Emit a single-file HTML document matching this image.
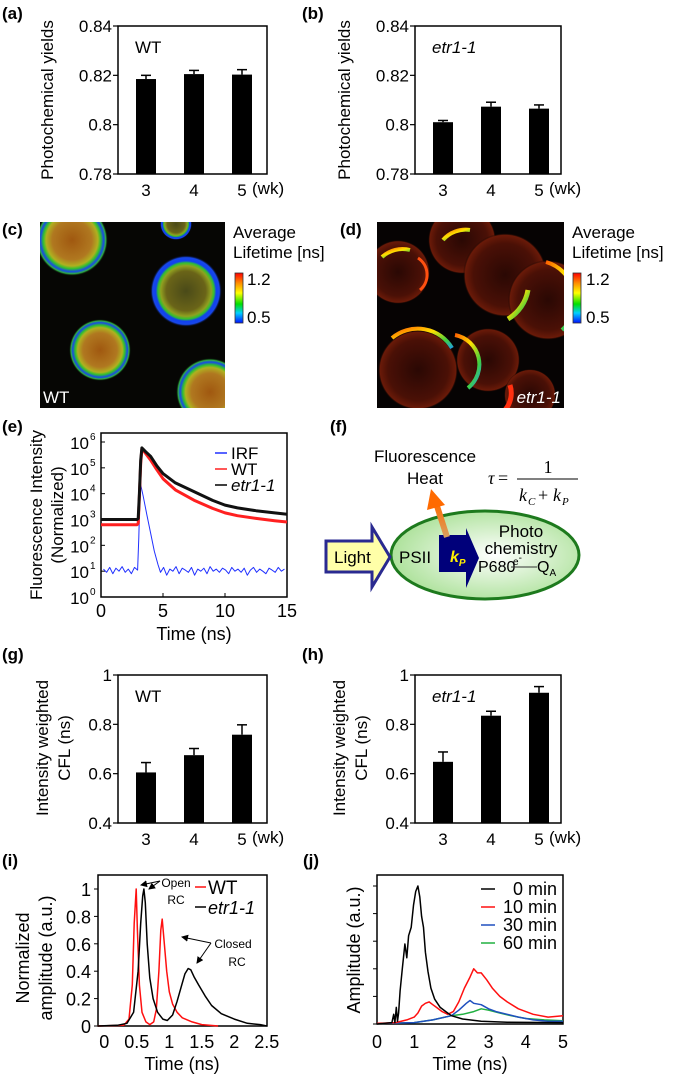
<!DOCTYPE html>
<html><head><meta charset="utf-8">
<style>
html,body{margin:0;padding:0;background:#fff;}
svg{display:block;font-family:"Liberation Sans",Arial,sans-serif;}
</style></head>
<body>
<svg id="fig" width="675" height="1078" viewBox="0 0 675 1078" xmlns="http://www.w3.org/2000/svg">
<defs>
  <linearGradient id="cbar" x1="0" y1="0" x2="0" y2="1">
    <stop offset="0" stop-color="#ff0000"/><stop offset="0.2" stop-color="#ff8c00"/>
    <stop offset="0.4" stop-color="#ffff00"/><stop offset="0.62" stop-color="#00e000"/>
    <stop offset="0.8" stop-color="#00d0ff"/><stop offset="1" stop-color="#0010ff"/>
  </linearGradient>
  <radialGradient id="cellA">
    <stop offset="0" stop-color="#4a4a18"/><stop offset="0.55" stop-color="#6a6418"/>
    <stop offset="0.7" stop-color="#90a020"/><stop offset="0.78" stop-color="#30c030"/>
    <stop offset="0.84" stop-color="#1040f0"/><stop offset="0.93" stop-color="#1848e8"/><stop offset="1" stop-color="#000" stop-opacity="0"/>
  </radialGradient>
  <radialGradient id="cellB">
    <stop offset="0" stop-color="#a05810"/><stop offset="0.55" stop-color="#b07820"/>
    <stop offset="0.72" stop-color="#b0b020"/><stop offset="0.8" stop-color="#30c030"/>
    <stop offset="0.88" stop-color="#1848e8"/><stop offset="0.94" stop-color="#30b040"/><stop offset="1" stop-color="#000" stop-opacity="0"/>
  </radialGradient>
  <radialGradient id="cellD">
    <stop offset="0" stop-color="#2a0804"/><stop offset="0.75" stop-color="#4a1006"/>
    <stop offset="0.95" stop-color="#6a1a08"/><stop offset="1" stop-color="#000" stop-opacity="0"/>
  </radialGradient>
  <linearGradient id="cres" x1="0" y1="0" x2="1" y2="1">
    <stop offset="0" stop-color="#ff6000"/><stop offset="0.4" stop-color="#ffe000"/>
    <stop offset="0.75" stop-color="#40d040"/><stop offset="1" stop-color="#20a0e0"/>
  </linearGradient>
  <radialGradient id="ell" cx="0.55" cy="0.5" r="0.6">
    <stop offset="0" stop-color="#ffffff"/><stop offset="1" stop-color="#a6df92"/>
  </radialGradient>
  <linearGradient id="orng" x1="0" y1="1" x2="0" y2="0">
    <stop offset="0" stop-color="#d8a060"/><stop offset="1" stop-color="#ff6a00"/>
  </linearGradient>
  <marker id="ah" markerWidth="7" markerHeight="7" refX="6" refY="3.5" orient="auto">
    <path d="M0,0 L7,3.5 L0,7 z" fill="#000"/>
  </marker>
</defs>

<g font-weight="bold" font-size="17">
  <text x="2" y="19">(a)</text>
  <text x="302" y="19">(b)</text>
  <text x="2" y="235">(c)</text>
  <text x="340" y="235">(d)</text>
  <text x="2" y="432">(e)</text>
  <text x="330" y="432">(f)</text>
  <text x="2" y="660">(g)</text>
  <text x="302" y="660">(h)</text>
  <text x="2" y="866">(i)</text>
  <text x="303" y="866">(j)</text>
</g>

<g>
  <svg x="40" y="222" width="185" height="186" viewBox="40 222 185 186">
    <rect x="40" y="222" width="185" height="186" fill="#060604"/>
    <circle cx="72" cy="240" r="36" fill="url(#cellB)"/>
    <circle cx="176" cy="224" r="16" fill="url(#cellA)"/>
    <circle cx="186" cy="291" r="36" fill="url(#cellA)"/>
    <circle cx="100" cy="350" r="31" fill="url(#cellB)"/>
    <circle cx="210" cy="392" r="34" fill="url(#cellB)"/>
  </svg>
  <text x="43" y="403" fill="#fff" font-size="17">WT</text>
</g>
<g font-size="17">
  <text x="233" y="238">Average</text>
  <text x="233" y="258">Lifetime [ns]</text>
  <rect x="235" y="273" width="8" height="50" fill="url(#cbar)" stroke="#333" stroke-width="0.8"/>
  <text x="247" y="285">1.2</text>
  <text x="247" y="323">0.5</text>
</g>

<g>
  <svg x="377" y="222" width="187" height="186" viewBox="377 222 187 186">
    <rect x="377" y="222" width="187" height="186" fill="#060303"/>
    <circle cx="398" cy="272" r="32" fill="url(#cellD)"/>
    <circle cx="462" cy="240" r="34" fill="url(#cellD)"/>
    <circle cx="505" cy="275" r="42" fill="url(#cellD)"/>
    <circle cx="548" cy="300" r="40" fill="url(#cellD)"/>
    <circle cx="418" cy="370" r="40" fill="url(#cellD)"/>
    <circle cx="488" cy="360" r="32" fill="url(#cellD)"/>
    <circle cx="530" cy="395" r="26" fill="url(#cellD)"/>
    <path d="M443,240 A30,30 0 0 1 470,230" stroke="url(#cres)" stroke-width="4" fill="none"/>
    <path d="M528,290 A42,42 0 0 1 508,319" stroke="url(#cres)" stroke-width="5" fill="none"/>
    <path d="M546,262 A40,40 0 0 1 562,330" stroke="url(#cres)" stroke-width="4" fill="none"/>
    <path d="M382,257 A30,30 0 0 1 410,250" stroke="url(#cres)" stroke-width="4" fill="none"/>
    <path d="M392,338 A40,40 0 0 1 452,348" stroke="url(#cres)" stroke-width="4" fill="none"/>
    <path d="M455,335 A30,30 0 0 1 468,388" stroke="url(#cres)" stroke-width="4" fill="none"/>
    <path d="M510,385 A26,26 0 0 1 505,410" stroke="#ff3010" stroke-width="5" fill="none"/>
    <path d="M418,258 A20,20 0 0 1 420,290" stroke="#ff5010" stroke-width="3" fill="none"/>
  </svg>
  <text x="561" y="403" fill="#fff" font-size="17" font-style="italic" text-anchor="end">etr1-1</text>
</g>
<g font-size="17">
  <text x="572" y="238">Average</text>
  <text x="572" y="258">Lifetime [ns]</text>
  <rect x="573" y="273" width="8" height="50" fill="url(#cbar)" stroke="#333" stroke-width="0.8"/>
  <text x="586" y="285">1.2</text>
  <text x="586" y="323">0.5</text>
</g>

<g>
  <text x="425" y="462" font-size="17" text-anchor="middle">Fluorescence</text>
  <text x="425" y="484" font-size="17" text-anchor="middle">Heat</text>
  <g font-family="'Liberation Serif',serif" font-size="18">
    <text x="488" y="484" font-style="italic">τ</text>
    <text x="498" y="484">=</text>
    <text x="548" y="473" text-anchor="middle">1</text>
    <line x1="517" y1="479" x2="578" y2="479" stroke="#000" stroke-width="1"/>
    <text x="519" y="501" font-style="italic">k</text><text x="528" y="505" font-size="11" font-style="italic">C</text>
    <text x="538" y="501">+</text>
    <text x="553" y="501" font-style="italic">k</text><text x="562" y="505" font-size="11" font-style="italic">P</text>
  </g>
  <ellipse cx="485" cy="555" rx="94" ry="44" fill="url(#ell)" stroke="#1d7a1d" stroke-width="3"/>
  <polygon points="326,541 372,541 372,527 390,557 372,587 372,572 326,572" fill="#ffffa8" stroke="#2a2a90" stroke-width="3"/>
  <text x="334" y="563" font-size="17">Light</text>
  <text x="399" y="563" font-size="17">PSII</text>
  <polygon points="439,535 466,535 466,528 479,558 466,588 466,572 439,572" fill="#00007a"/>
  <text x="450" y="562" font-size="16" font-weight="bold" font-style="italic" fill="#ffee00">k<tspan font-size="10" dy="4">P</tspan></text>
  <text x="521" y="537" font-size="17" text-anchor="middle">Photo</text>
  <text x="521" y="554" font-size="17" text-anchor="middle">chemistry</text>
  <text x="478" y="572" font-size="16">P680</text>
  <text x="513" y="565" font-size="10">e<tspan dy="-4">-</tspan></text>
  <line x1="511" y1="567" x2="537" y2="567" stroke="#333" stroke-width="1"/>
  <text x="537" y="572" font-size="16">Q<tspan font-size="10" dy="4">A</tspan></text>
  <line x1="447" y1="537" x2="436" y2="503" stroke="url(#orng)" stroke-width="6"/>
  <polygon points="431,489 445,505 427,510" fill="#ff6a00"/>
</g>

<g font-size="12">
  <text x="176" y="887" text-anchor="middle">Open</text>
  <text x="176" y="904" text-anchor="middle">RC</text>
  <line x1="160" y1="881" x2="141" y2="885" stroke="#000" marker-end="url(#ah)"/>
  <line x1="160" y1="881" x2="149" y2="889" stroke="#000" marker-end="url(#ah)"/>
</g>
<g font-size="12">
  <text x="233" y="948" text-anchor="middle">Closed</text>
  <text x="237" y="966" text-anchor="middle">RC</text>
  <line x1="211" y1="943" x2="182" y2="937" stroke="#000" marker-end="url(#ah)"/>
  <line x1="211" y1="943" x2="197" y2="963" stroke="#000" marker-end="url(#ah)"/>
</g>
</svg>

<script>
const weeks = ['3', '4', '5'];
const aVals = [0.8185, 0.8205, 0.8203];
const aErr = [0.0015, 0.0015, 0.002];
const bVals = [0.801, 0.8073, 0.8065];
const bErr = [0.0007, 0.0018, 0.0015];
const abTicks = [0.78, 0.80, 0.82, 0.84];
const abTickLabels = ['0.78', '0.8', '0.82', '0.84'];
const gVals = [0.605, 0.675, 0.758];
const gErr = [0.04, 0.027, 0.04];
const hVals = [0.648, 0.835, 0.928];
const hErr = [0.04, 0.018, 0.025];
const ghTicks = [0.4, 0.6, 0.8, 1.0];
const ghTickLabels = ['0.4', '0.6', '0.8', '1'];

const eXTicks = [0, 5, 10, 15];
const eYExp = [0, 1, 2, 3, 4, 5, 6];
const wtT = [0, 2.9, 3.0, 3.1, 3.2, 3.3, 3.6, 4, 4.5, 5, 6, 7.5, 9, 10, 11, 12.5, 14, 15];
const wtV = [630, 630, 700, 8000, 1.5e5, 5.5e5, 3.6e5, 2e5, 8.5e4, 3.8e4, 1.4e4, 5600, 2700, 1800, 1400, 1100, 900, 800];
const etT = [0, 2.9, 3.0, 3.1, 3.2, 3.3, 3.6, 4, 4.5, 5, 6, 7.5, 9, 10, 11, 12.5, 14, 15];
const etV = [1000, 1000, 1100, 1e4, 2e5, 5.9e5, 4.2e5, 2.8e5, 1.2e5, 6e4, 2.6e4, 1.2e4, 5500, 3600, 2800, 2200, 1800, 1600];
const irfT = [0.2,0.45,0.7,0.95,1.2,1.45,1.7,1.95,2.2,2.45,2.7,2.95,3.05,3.12,3.2,3.4,3.7,4.0,4.3,4.6,4.8,5.05,5.3,5.55,5.8,6.05,6.3,6.55,6.8,7.05,7.3,7.55,7.8,8.05,8.3,8.55,8.8,9.05,9.3,9.55,9.8,10.05,10.3,10.55,10.8,11.05,11.3,11.55,11.8,12.05,12.3,12.55,12.8,13.05,13.3,13.55,13.8,14.05,14.3,14.55,14.8];
const irfV = [12,9,14,8,13,10,15,9,12,8,14,11,200,4000,2.2e4,8000,1500,300,60,18,9,14,7,12,10,15,8,13,11,9,14,7,12,10,13,8,15,10,12,9,13,11,8,14,10,12,9,13,7,11,14,9,12,10,8,13,11,9,14,10,12];

const iXTicks = [0, 0.5, 1, 1.5, 2, 2.5];
const iXTickLabels = ['0', '0.5', '1', '1.5', '2', '2.5'];
const iYTicks = [0, 0.2, 0.4, 0.6, 0.8, 1];
const iYTickLabels = ['0', '0.2', '0.4', '0.6', '0.8', '1'];
const iWtT = [-0.1,0.3,0.38,0.43,0.46,0.49,0.51,0.54,0.58,0.64,0.7,0.76,0.8,0.84,0.87,0.89,0.92,0.96,1.0,1.05,1.12,1.2,1.35,1.5,1.75];
const iWtV = [0,0.005,0.05,0.3,0.75,1.0,0.7,0.3,0.1,0.03,0.01,0.03,0.12,0.4,0.7,0.78,0.62,0.4,0.25,0.16,0.1,0.06,0.03,0.01,0];
const iEtT = [-0.1,0.2,0.35,0.45,0.52,0.56,0.59,0.61,0.63,0.66,0.7,0.75,0.82,0.9,0.97,1.05,1.12,1.18,1.24,1.29,1.33,1.38,1.45,1.55,1.65,1.8,2.0,2.2,2.4,2.5];
const iEtV = [0,0.005,0.02,0.1,0.4,0.75,0.95,1.0,0.9,0.6,0.35,0.2,0.1,0.05,0.04,0.08,0.18,0.28,0.38,0.42,0.41,0.36,0.3,0.22,0.15,0.09,0.05,0.02,0.01,0];

const jXTicks = [0, 1, 2, 3, 4, 5];
const jYTicks = [0, 1, 2, 3, 4, 5];
const jSeriesNames = ['0 min', '10 min', '30 min', '60 min'];
const j0T = [0,0.4,0.45,0.48,0.52,0.55,0.58,0.62,0.68,0.75,0.8,0.85,0.92,0.98,1.04,1.1,1.15,1.2,1.25,1.3,1.37,1.45,1.55,1.7,1.85,2.0,2.3,2.8,3.5,5];
const j0V = [0,0.05,0.35,0.05,0.6,0.1,0.4,1.2,2.0,2.9,2.4,3.2,3.5,4.3,4.8,5.0,4.6,3.9,3.5,2.6,1.9,1.3,0.9,0.6,0.45,0.3,0.18,0.1,0.06,0.05];
const j10T = [0,0.5,0.8,1.0,1.1,1.2,1.3,1.4,1.5,1.6,1.75,1.9,2.05,2.2,2.35,2.5,2.6,2.7,2.8,2.95,3.1,3.3,3.5,3.8,4.2,4.6,5];
const j10V = [0.02,0.05,0.15,0.25,0.4,0.65,0.75,0.8,0.7,0.6,0.45,0.35,0.45,0.8,1.3,1.7,2.0,1.85,1.85,1.6,1.3,1.0,0.8,0.55,0.35,0.25,0.3];
const j30T = [0,1.0,1.5,2.0,2.2,2.4,2.5,2.6,2.8,3.0,3.2,3.5,3.8,4.2,4.6,5];
const j30V = [0.02,0.05,0.15,0.3,0.5,0.75,0.85,0.75,0.7,0.55,0.45,0.35,0.25,0.15,0.1,0.1];
const j60T = [0,1.0,1.5,2.0,2.3,2.6,2.8,3.0,3.3,3.6,4.0,4.5,5];
const j60V = [0.02,0.05,0.15,0.3,0.35,0.45,0.55,0.5,0.4,0.3,0.2,0.15,0.12];

const NS = 'http://www.w3.org/2000/svg';
const svg = document.getElementById('fig');
function add(parent, tag, attrs, name, txt) {
  const e = document.createElementNS(NS, tag);
  for (const k in attrs) e.setAttribute(k, attrs[k]);
  
  
  if (txt !== undefined) e.textContent = txt;
  parent.appendChild(e);
  return e;
}
function poly(parent, xs, ys, fx, fy, color, w, name) {
  const pts = xs.map((t, i) => fx(t).toFixed(1) + ',' + fy(ys[i]).toFixed(1)).join(' ');
  return add(parent, 'polyline', {points: pts, fill: 'none', stroke: color, 'stroke-width': w, 'stroke-linejoin': 'round'}, name);
}

function barChart(id, L, R, T, B, min, max, ticks, tickLabels, vals, errs, title, italic, yTitleLines, yTitleX, yTitleY) {
  const g = add(svg, 'g', {}, id);
  const ys = v => B - (v - min) / (max - min) * (B - T);
  const xs = i => L + 28 + i * 48;
  add(g, 'rect', {x: L, y: T, width: R - L, height: B - T, fill: 'none', stroke: '#000', 'stroke-width': 1.5}, id + '-frame');
  ticks.forEach((t, i) => {
    add(g, 'line', {x1: L - 5, x2: L, y1: ys(t), y2: ys(t), stroke: '#000', 'stroke-width': 1.2}, id + '-y-tick');
    add(g, 'text', {x: L - 6, y: ys(t) + 6, 'font-size': 17, 'text-anchor': 'end'}, id + '-y-tick-label', tickLabels[i]);
  });
  vals.forEach((v, i) => {
    const cx = xs(i);
    add(g, 'rect', {x: cx - 10, y: ys(v), width: 20, height: B - ys(v), fill: '#000'}, id + '-bar-wk' + weeks[i]);
    add(g, 'line', {x1: cx, x2: cx, y1: ys(v), y2: ys(v + errs[i]), stroke: '#000', 'stroke-width': 1.5}, id + '-error-bar');
    add(g, 'line', {x1: cx - 5, x2: cx + 5, y1: ys(v + errs[i]), y2: ys(v + errs[i]), stroke: '#000', 'stroke-width': 1.5}, id + '-error-cap');
    add(g, 'text', {x: cx, y: B + 22, 'font-size': 17, 'text-anchor': 'middle'}, id + '-x-tick-label', weeks[i]);
  });
  add(g, 'text', {x: L + 134, y: B + 20, 'font-size': 17}, id + '-x-unit', '(wk)');
  const tt = add(g, 'text', {x: L + 17, y: T + 27, 'font-size': 17}, id + '-genotype-label', title);
  if (italic) tt.setAttribute('font-style', 'italic');
  yTitleLines.forEach((s, k) => {
    add(g, 'text', {x: 0, y: 0, 'font-size': 17, 'text-anchor': 'middle', transform: 'translate(' + (yTitleX + k * 22) + ',' + yTitleY + ') rotate(-90)'}, id + '-y-title', s);
  });
}
barChart('chart-a', 118, 267, 26, 174, 0.78, 0.84, abTicks, abTickLabels, aVals, aErr, 'WT', false, ['Photochemical yields'], 53, 100);
barChart('chart-b', 415, 561, 26, 174, 0.78, 0.84, abTicks, abTickLabels, bVals, bErr, 'etr1-1', true, ['Photochemical yields'], 350, 100);
barChart('chart-g', 118, 267, 675, 823, 0.4, 1.0, ghTicks, ghTickLabels, gVals, gErr, 'WT', false, ['Intensity weighted', 'CFL (ns)'], 48, 748);
barChart('chart-h', 415, 561, 675, 823, 0.4, 1.0, ghTicks, ghTickLabels, hVals, hErr, 'etr1-1', true, ['Intensity weighted', 'CFL (ns)'], 345, 748);

(function () {
  const g = add(svg, 'g', {}, 'chart-e');
  const L = 101, R = 287, T = 433, B = 597, y6 = 442;
  const ex = t => L + t * (R - L) / 15;
  const ey = v => B - Math.log10(Math.max(v, 1)) / 6 * (B - y6);
  add(g, 'rect', {x: L, y: T, width: R - L, height: B - T, fill: 'none', stroke: '#000', 'stroke-width': 1.5}, 'e-frame');
  eYExp.forEach(p => {
    const y = B - p / 6 * (B - y6);
    add(g, 'line', {x1: L, x2: L + 4, y1: y, y2: y, stroke: '#000'}, 'e-y-tick');
    add(g, 'text', {x: 89, y: y + 7, 'font-size': 17, 'text-anchor': 'end'}, 'e-y-tick-label', '10');
    add(g, 'text', {x: 90, y: y - 2, 'font-size': 10}, 'e-y-tick-exponent', String(p));
  });
  eXTicks.forEach(t => {
    add(g, 'line', {x1: ex(t), x2: ex(t), y1: B, y2: B - 4, stroke: '#000'}, 'e-x-tick');
    add(g, 'text', {x: ex(t), y: B + 20, 'font-size': 18, 'text-anchor': 'middle'}, 'e-x-tick-label', String(t));
  });
  add(g, 'text', {x: 194, y: 640, 'font-size': 18, 'text-anchor': 'middle'}, 'e-x-title', 'Time (ns)');
  add(g, 'text', {x: 0, y: 0, 'font-size': 17, 'text-anchor': 'middle', transform: 'translate(42,515) rotate(-90)'}, 'e-y-title', 'Fluorescence Intensity');
  add(g, 'text', {x: 0, y: 0, 'font-size': 17, 'text-anchor': 'middle', transform: 'translate(63,515) rotate(-90)'}, 'e-y-title-2', '(Normalized)');
  poly(g, irfT, irfV, ex, ey, '#2030ff', 1, 'irf-line');
  poly(g, wtT, wtV, ex, ey, '#ff2020', 3, 'wt-decay-line');
  poly(g, etT, etV, ex, ey, '#111', 3, 'etr1-decay-line');
  const leg = [['IRF', '#2030ff', false], ['WT', '#ff2020', false], ['etr1-1', '#000', true]];
  leg.forEach((l, k) => {
    const y = 453 + k * 16;
    add(g, 'line', {x1: 215, x2: 227, y1: y, y2: y, stroke: l[1], 'stroke-width': 1.5}, 'e-legend-swatch');
    const t = add(g, 'text', {x: 231, y: y + 6, 'font-size': 17}, 'e-legend-entry', l[0]);
    if (l[2]) t.setAttribute('font-style', 'italic');
  });
})();

(function () {
  const g = add(svg, 'g', {}, 'chart-i');
  const L = 98, R = 267, T = 875, B = 1026;
  const ix = t => 104.3 + t * 65;
  const iy = v => B - v * 137;
  add(g, 'rect', {x: L, y: T, width: R - L, height: B - T, fill: 'none', stroke: '#000', 'stroke-width': 1.5}, 'i-frame');
  iYTicks.forEach((v, k) => {
    add(g, 'line', {x1: L - 4, x2: L, y1: iy(v), y2: iy(v), stroke: '#000'}, 'i-y-tick');
    add(g, 'text', {x: L - 7, y: iy(v) + 7, 'font-size': 18, 'text-anchor': 'end'}, 'i-y-tick-label', iYTickLabels[k]);
  });
  iXTicks.forEach((t, k) => {
    add(g, 'text', {x: ix(t), y: B + 22, 'font-size': 18, 'text-anchor': 'middle'}, 'i-x-tick-label', iXTickLabels[k]);
  });
  add(g, 'text', {x: 182, y: 1070, 'font-size': 18, 'text-anchor': 'middle'}, 'i-x-title', 'Time (ns)');
  add(g, 'text', {x: 0, y: 0, 'font-size': 18, 'text-anchor': 'middle', transform: 'translate(29,958) rotate(-90)'}, 'i-y-title', 'Normalized');
  add(g, 'text', {x: 0, y: 0, 'font-size': 18, 'text-anchor': 'middle', transform: 'translate(52,958) rotate(-90)'}, 'i-y-title-2', 'amplitude (a.u.)');
  poly(g, iWtT, iWtV, ix, iy, '#ff1010', 1.5, 'i-wt-line');
  poly(g, iEtT, iEtV, ix, iy, '#000', 1.5, 'i-etr1-line');
  add(g, 'line', {x1: 195, x2: 206, y1: 887, y2: 887, stroke: '#ff1010', 'stroke-width': 1.5}, 'i-legend-swatch-wt');
  add(g, 'text', {x: 208, y: 894, 'font-size': 19}, 'i-legend-wt', 'WT');
  add(g, 'line', {x1: 195, x2: 206, y1: 907, y2: 907, stroke: '#000', 'stroke-width': 1.5}, 'i-legend-swatch-etr1');
  add(g, 'text', {x: 208, y: 914, 'font-size': 18, 'font-style': 'italic'}, 'i-legend-etr1', 'etr1-1');
})();

(function () {
  const g = add(svg, 'g', {}, 'chart-j');
  const L = 377, R = 563, T = 875, B = 1024;
  const jx = t => L + t * (R - L) / 5;
  const jy = v => B - v * 27.6;
  add(g, 'rect', {x: L, y: T, width: R - L, height: B - T, fill: 'none', stroke: '#000', 'stroke-width': 1.5}, 'j-frame');
  jYTicks.forEach(v => {
    add(g, 'line', {x1: L - 4, x2: L, y1: jy(v), y2: jy(v), stroke: '#000'}, 'j-y-tick');
  });
  jXTicks.forEach(t => {
    add(g, 'text', {x: jx(t), y: B + 24, 'font-size': 18, 'text-anchor': 'middle'}, 'j-x-tick-label', String(t));
  });
  add(g, 'text', {x: 470, y: 1070, 'font-size': 18, 'text-anchor': 'middle'}, 'j-x-title', 'Time (ns)');
  add(g, 'text', {x: 0, y: 0, 'font-size': 18, 'text-anchor': 'middle', transform: 'translate(360,950) rotate(-90)'}, 'j-y-title', 'Amplitude (a.u.)');
  const colors = ['#000', '#ff1010', '#1f4fbf', '#20b040'];
  poly(g, j60T, j60V, jx, jy, colors[3], 1.5, 'j-60min-line');
  poly(g, j30T, j30V, jx, jy, colors[2], 1.5, 'j-30min-line');
  poly(g, j10T, j10V, jx, jy, colors[1], 1.5, 'j-10min-line');
  poly(g, j0T, j0V, jx, jy, colors[0], 1.5, 'j-0min-line');
  jSeriesNames.forEach((s, k) => {
    const y = 889 + k * 18;
    add(g, 'line', {x1: 481, x2: 495, y1: y, y2: y, stroke: colors[k], 'stroke-width': 1.5}, 'j-legend-swatch');
    add(g, 'text', {x: 557, y: y + 6, 'font-size': 18, 'text-anchor': 'end'}, 'j-legend-entry', s);
  });
})();
</script>
</body></html>
